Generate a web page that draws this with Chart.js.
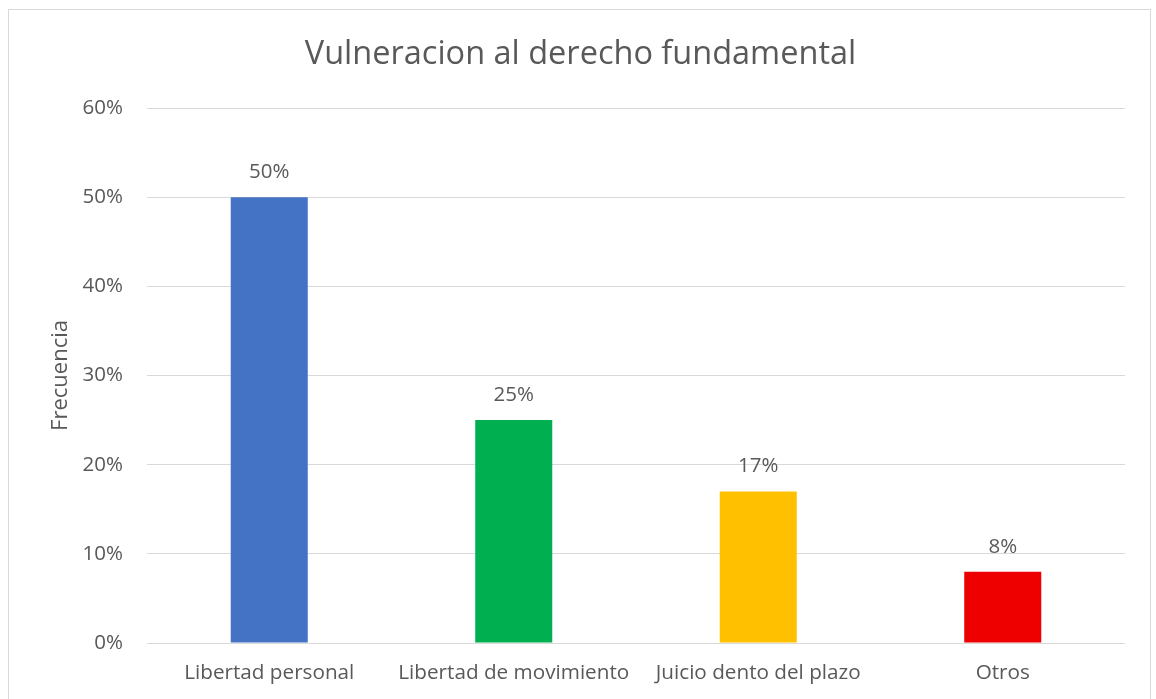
<!DOCTYPE html>
<html>
<head>
<meta charset="utf-8">
<script src="https://cdn.jsdelivr.net/npm/chart.js@4/dist/chart.umd.min.js"></script>
<style>
  html, body { margin: 0; padding: 0; background: #ffffff; }
  #wrap { position: relative; width: 1156px; height: 699px; overflow: hidden; }
  #frame { position: absolute; left: 8px; top: 9px; width: 1143px; height: 720px; border: 1px solid #d9d9d9; box-sizing: border-box; }
  canvas { position: absolute; left: 0; top: 0; }
</style>
</head>
<body>
<div id="wrap">
  <div id="frame"></div>
  <canvas id="c" width="1156" height="699"></canvas>
</div>
<script>
const categories = ["Libertad personal", "Libertad de movimiento", "Juicio dento del plazo", "Otros"];
const values = [50, 25, 17, 8];
const barColors = ["#4472C4", "#00B050", "#FFC000", "#EE0000"];
const yTicks = [0, 10, 20, 30, 40, 50, 60];
const titleText = "Vulneracion al derecho fundamental";
const yTitle = "Frecuencia";

const FONT = "'Open Sans', sans-serif";
const TXT = "#595959";

const labelPlugin = {
  id: 'barLabels',
  afterDatasetsDraw(chart) {
    const ctx = chart.ctx;
    const meta = chart.getDatasetMeta(0);
    ctx.save();
    ctx.font = "20.5px " + FONT;
    ctx.fillStyle = TXT;
    ctx.textAlign = 'center';
    ctx.textBaseline = 'middle';
    meta.data.forEach((bar, i) => {
      ctx.fillText(values[i] + '%', bar.x, bar.y - 25);
    });
    ctx.restore();
  }
};

new Chart(document.getElementById('c'), {
  type: 'bar',
  data: {
    labels: categories,
    datasets: [{
      data: values,
      backgroundColor: barColors,
      borderWidth: 0,
      barPercentage: 0.315,
      categoryPercentage: 1.0
    }]
  },
  options: {
    responsive: false,
    animation: false,
    layout: { padding: { left: 36, right: 31, top: 0, bottom: 0 } },
    plugins: {
      legend: { display: false },
      tooltip: { enabled: false },
      title: {
        display: true,
        text: titleText,
        color: TXT,
        font: { family: FONT, size: 32.5, weight: 'normal', lineHeight: 1.2 },
        padding: { top: 35, bottom: 34 }
      }
    },
    scales: {
      x: {
        grid: { display: false, drawTicks: false },
        border: { display: false },
        ticks: { color: TXT, font: { family: FONT, size: 20.7 }, padding: 18, maxRotation: 0, autoSkip: false },
        afterFit(scale) { scale.height = 56; }
      },
      y: {
        min: 0, max: 60,
        afterBuildTicks(scale) { scale.ticks = yTicks.map(v => ({ value: v })); },
        grid: { color: "#d9d9d9", lineWidth: 1, drawTicks: false },
        border: { display: false },
        ticks: { color: TXT, font: { family: FONT, size: 20.5 }, padding: 24, callback: v => v + '%' },
        title: { display: true, text: yTitle, color: TXT, font: { family: FONT, size: 22 }, padding: { top: 12, bottom: 0 } },
        afterFit(scale) { scale.width = 111; }
      }
    }
  },
  plugins: [labelPlugin]
});
</script>
</body>
</html>
